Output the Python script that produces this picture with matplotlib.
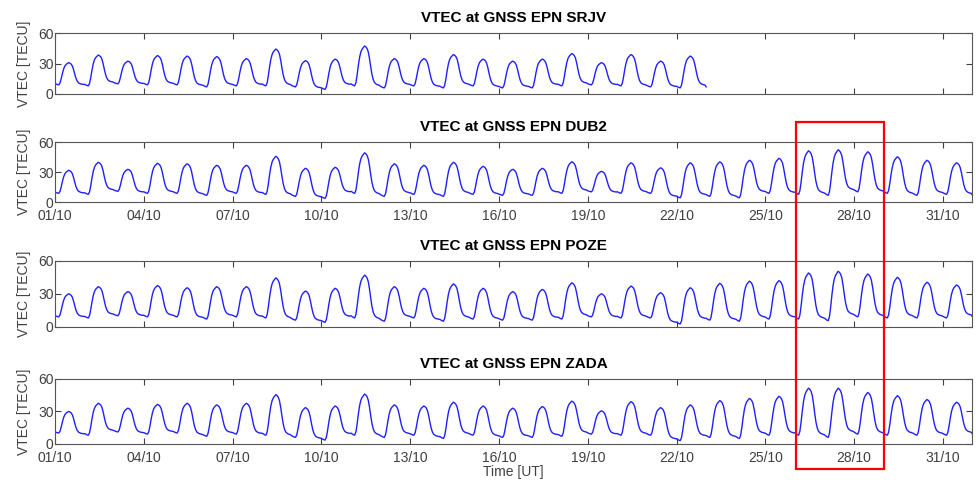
import pandas as pd
import matplotlib.pyplot as plt
import matplotlib.dates as mdates
from matplotlib.patches import Rectangle

plt.rcParams['font.family'] = ['Liberation Sans', 'DejaVu Sans']

# daily VTEC maximum [TECU], one per day starting 01/10
srjv_peaks = [31, 38.5, 32.5, 38, 37.5, 37, 35, 44.5, 33, 34.5, 47.5, 35, 35, 39, 34.5, 32.5,
              34.5, 40, 31, 39, 32.5, 37.5]
dub2_peaks = [32, 40, 33, 39, 38.5, 37, 37, 46, 34, 35, 49.5, 38.5, 37, 40, 36, 33, 34, 40.5,
              31, 39.5, 34.5, 39.5, 40.5, 42, 44, 51.5, 52.5, 50.5, 45.5, 42, 39.5]
poze_peaks = [30, 36.5, 32, 37.5, 35.5, 36.5, 36.5, 44.5, 32.5, 35, 47, 36.5, 35, 39, 35, 32, 34,
              40, 30, 37, 31, 35.5, 39.5, 41.5, 42, 49, 50.5, 48, 45, 40.5, 38]
zada_peaks = [30, 37.5, 33, 36.5, 37.5, 36, 37.5, 45.5, 33.5, 35, 46, 36, 35, 38.5, 35, 33, 34.5,
              39.5, 30.5, 39, 33.5, 36, 40, 42, 44, 51.5, 51.5, 47.5, 44.5, 41, 38.5]

# night minimum before each day's rise (last value = end of record)
srjv_mins = [9, 8, 10, 9, 9, 7, 8, 8, 7, 4.5, 8, 6, 8, 6, 8, 6, 6, 8, 9, 8, 7, 6, 7]
dub2_mins = [9, 8, 11, 9, 9, 7, 9, 8, 6, 4, 9, 6, 8, 6, 8, 7, 7, 9, 10.5, 9, 9, 4.5, 6, 4.5, 9,
             8, 7, 10.5, 9, 7, 8, 7]
poze_mins = [9, 8, 10, 9, 9, 7, 9, 8, 6, 4, 8, 5, 8, 5, 7, 6, 6, 7, 9, 8, 8, 2.5, 6, 5, 7, 7,
             5.5, 9, 8, 8, 8, 9]
zada_mins = [10, 8, 11, 9, 10, 7, 9, 8, 6, 3.5, 8, 6, 8, 5, 8, 6, 6, 7, 9, 8, 8, 3, 6, 5, 8, 8,
             6, 9, 8, 8, 8, 9]

# typical hourly shape of one day (0 = night level, 1 = daily max at 11 UT)
day_shape = [0.05, 0.03, 0.01, 0.0, 0.08, 0.28, 0.52, 0.72, 0.85, 0.92, 0.96, 1.0,
             0.98, 0.94, 0.86, 0.70, 0.50, 0.32, 0.20, 0.13, 0.10, 0.08, 0.07, 0.06]
peak_hour = 11

stations = ['SRJV', 'DUB2', 'POZE', 'ZADA']
peaks = [srjv_peaks, dub2_peaks, poze_peaks, zada_peaks]
mins = [srjv_mins, dub2_mins, poze_mins, zada_mins]


def build_series(day_peaks, day_mins):
    values = []
    for d, peak in enumerate(day_peaks):
        for h, s in enumerate(day_shape):
            base = day_mins[d] if h <= peak_hour else day_mins[d + 1]
            values.append(base + (peak - base) * s)
    values.append(day_mins[-1])
    times = pd.date_range('2014-10-01', periods=len(values), freq='h')
    return times, values


fig = plt.figure(figsize=(9.76, 4.84), dpi=100)
# [left, bottom, width, height] in figure fraction
boxes = [[0.0564, 0.806, 0.940, 0.125],
         [0.0564, 0.582, 0.940, 0.124],
         [0.0564, 0.325, 0.940, 0.136],
         [0.0564, 0.083, 0.940, 0.134]]

tick_days = pd.date_range('2014-10-01', '2014-10-31', freq='3D')

for i, name in enumerate(stations):
    ax = fig.add_axes(boxes[i])
    t, v = build_series(peaks[i], mins[i])
    ax.plot(t, v, color='#2020ff', lw=1.0)
    ax.set_xlim(pd.Timestamp('2014-10-01'), pd.Timestamp('2014-11-01'))
    ax.set_ylim(0, 60)
    ax.set_yticks([0, 30, 60])
    ax.set_xticks(tick_days)
    ax.xaxis.set_major_formatter(mdates.DateFormatter('%d/%m'))
    ax.tick_params(direction='in', top=True, right=True, length=4, width=0.8,
                   labelsize=10, colors='#404040')
    ax.tick_params(axis='y', pad=1)
    ax.tick_params(axis='x', pad=5)
    if i in (0, 2):
        ax.tick_params(labelbottom=False)
    for s in ax.spines.values():
        s.set_color('#555555')
        s.set_linewidth(0.8)
    ax.set_ylabel('VTEC [TECU]', fontsize=10, color='#404040', labelpad=5)
    ax.set_title(f'VTEC at GNSS EPN {name}', fontsize=11, fontweight='bold', pad=8)

fig.text(0.526, 0.01, 'Time [UT]', fontsize=10, color='#404040', ha='center', va='bottom')

# highlighted period
fig.patches.append(Rectangle((0.8156, 0.0304), 0.0902, 0.718, transform=fig.transFigure,
                             fill=False, edgecolor='#ff0000', lw=1.6))

fig.savefig('out.png', dpi=100)
